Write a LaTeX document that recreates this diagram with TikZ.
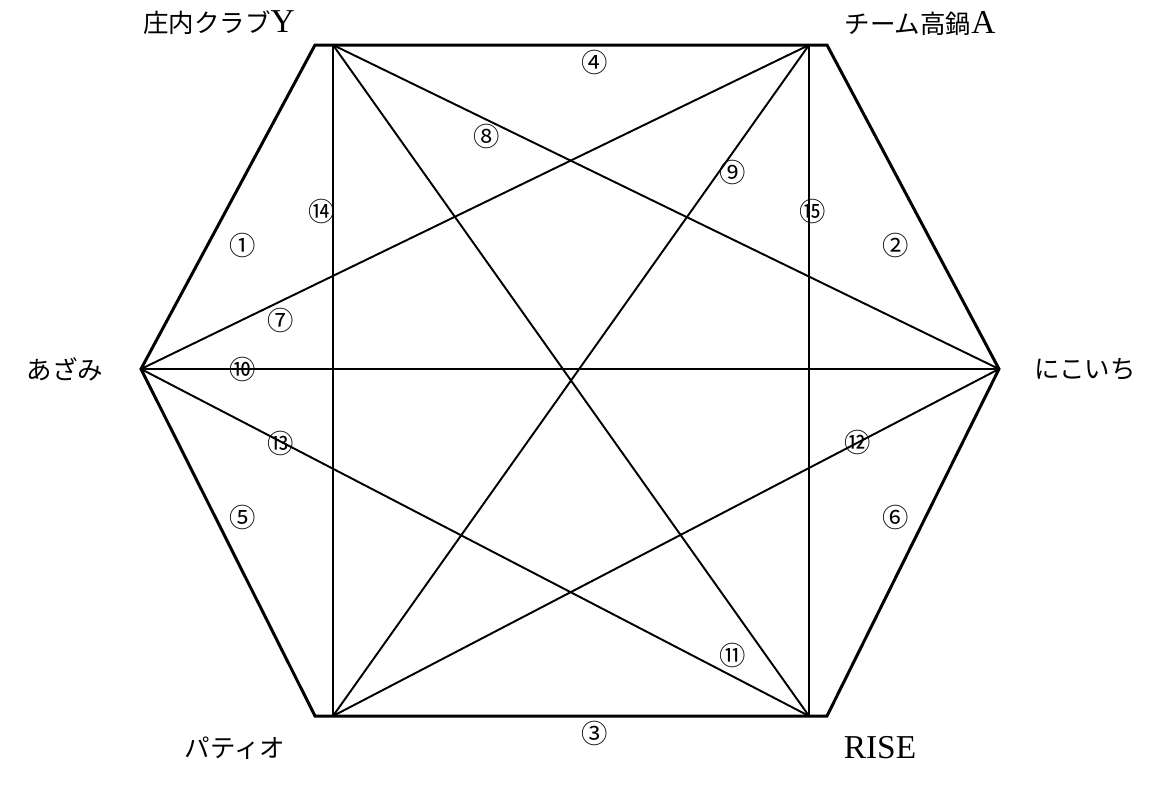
\documentclass[tikz,border=0pt]{standalone}
\usepackage{fontspec}
\setmainfont{Liberation Serif}
\newfontfamily\jp{Noto Sans CJK JP}
\newcommand{\jpname}[1]{{\jp\fontsize{14.5pt}{16pt}\selectfont #1}}
\usepackage{tikz}
\usetikzlibrary{positioning, calc}
\tikzset{
    outerline/.style={
        draw=black,
        line width=1.7pt,
        line join=miter
    },
    innerline/.style={
        draw=black,
        line width=1.1pt
    },
    team/.style={
        inner sep=0pt,
        font=\fontsize{19pt}{21pt}\selectfont
    },
    matchno/.style={
        inner sep=0pt,
        font=\jp\fontsize{15pt}{16pt}\selectfont
    }
}

\begin{document}
\begin{tikzpicture}[x=0.2mm, y=-0.2mm]
\useasboundingbox (0,0) rectangle (1160,787);

% Vertices
\coordinate (shonai) at (333,45);
\coordinate (takanabe) at (809,45);
\coordinate (azami) at (141,369);
\coordinate (nikoichi) at (999,369);
\coordinate (patio) at (333,716);
\coordinate (rise) at (809,716);

% Outer corners
\coordinate (shonaiC) at (315,45);
\coordinate (takanabeC) at (827,45);
\coordinate (patioC) at (315,716);
\coordinate (riseC) at (827,716);

% Hexagon
\draw[outerline] (azami) -- (shonaiC) -- (takanabeC) -- (nikoichi) -- (riseC) -- (patioC) -- cycle;

% Inner lines
\draw[innerline] (azami) -- (takanabe);
\draw[innerline] (shonai) -- (nikoichi);
\draw[innerline] (takanabe) -- (patio);
\draw[innerline] (azami) -- (nikoichi);
\draw[innerline] (shonai) -- (rise);
\draw[innerline] (nikoichi) -- (patio);
\draw[innerline] (azami) -- (rise);
\draw[innerline] (shonai) -- (patio);
\draw[innerline] (takanabe) -- (rise);

% Team names
\node[team] (shonaiL) at (219,23) {\jpname{庄内クラブ}Y};
\node[team] (takanabeL) at (920,23) {\jpname{チーム高鍋}A};
\node[team] (azamiL) at (65,369) {\jpname{あざみ}};
\node[team] (nikoichiL) at (1085,369) {\jpname{にこいち}};
\node[team] (patioL) at (235,748) {\jpname{パティオ}};
\node[team] (riseL) at (880,748) {RISE};

% Match numbers
\node[matchno] (m1) at (243,245) {①};
\node[matchno] (m2) at (896,245) {②};
\node[matchno] (m3) at (595,733) {③};
\node[matchno] (m4) at (595,62) {④};
\node[matchno] (m5) at (243,517) {⑤};
\node[matchno] (m6) at (896,517) {⑥};
\node[matchno] (m7) at (281,320) {⑦};
\node[matchno] (m8) at (487,136) {⑧};
\node[matchno] (m9) at (733,172) {⑨};
\node[matchno] (m10) at (243,369) {⑩};
\node[matchno] (m11) at (733,655) {⑪};
\node[matchno] (m12) at (858,442) {⑫};
\node[matchno] (m13) at (281,443) {⑬};
\node[matchno] (m14) at (322,211) {⑭};
\node[matchno] (m15) at (813,211) {⑮};

\end{tikzpicture}
\end{document}
